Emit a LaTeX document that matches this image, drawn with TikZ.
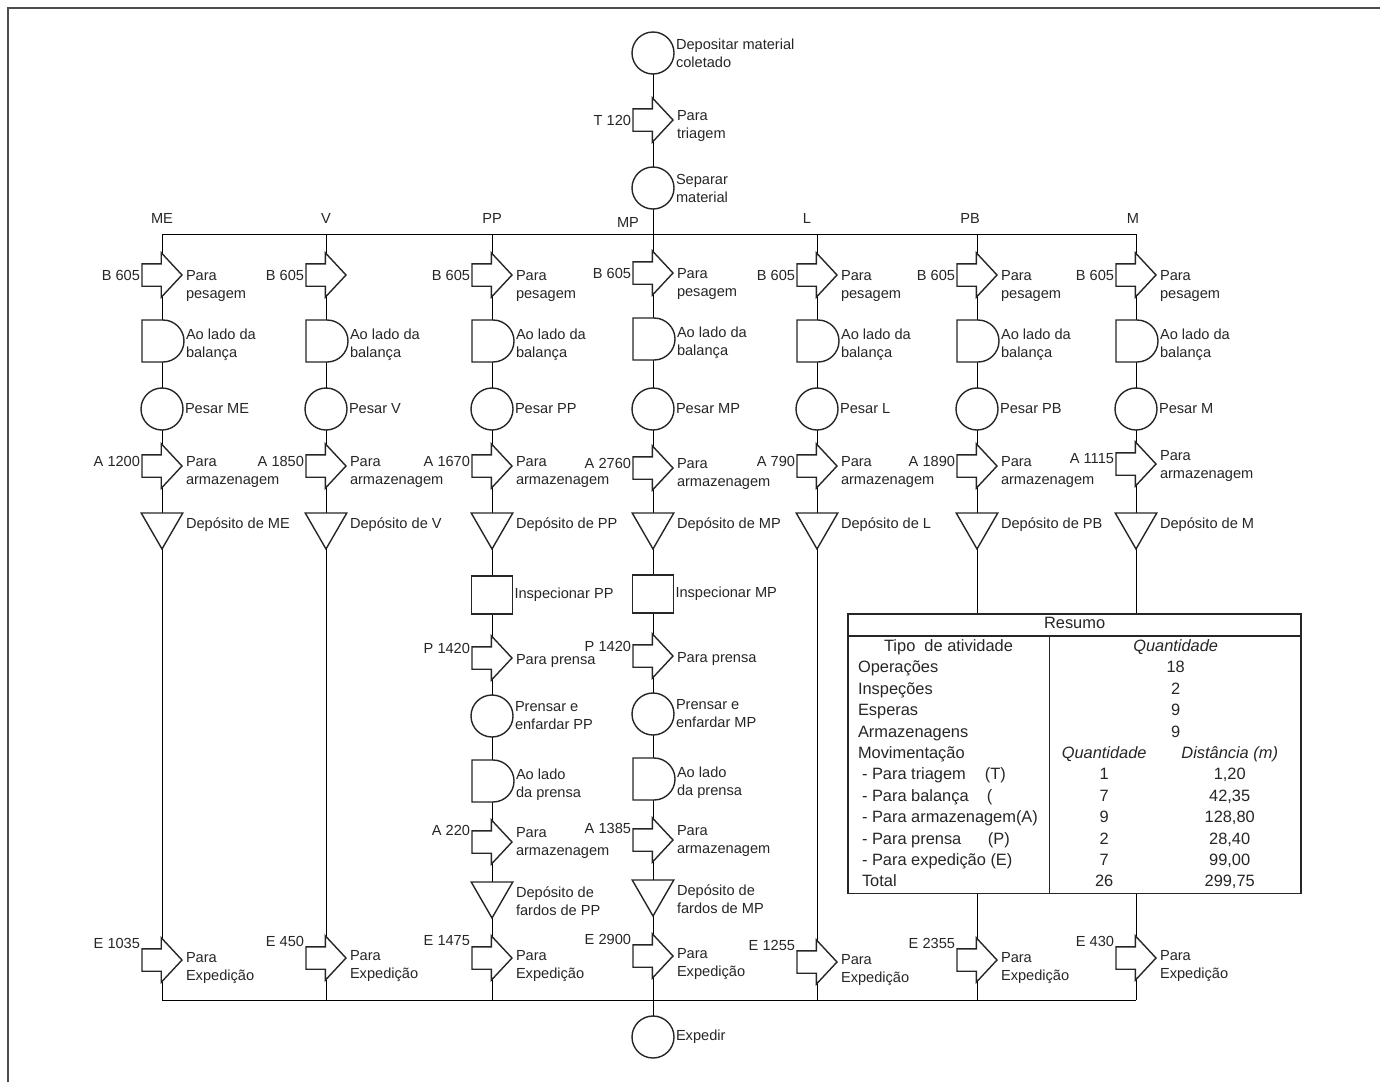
\documentclass[tikz,border=0pt]{standalone}
\usepackage{fontspec}
\setmainfont{Liberation Sans}
\usepackage{array}
\usepackage{tikz}
\usetikzlibrary{shapes.arrows,shapes.geometric,shapes.misc}
\pgfdeclarelayer{bg}
\pgfsetlayers{bg,main}
% operation, transport, delay, inspection, storage
\newcommand{\oper}[4]{\node[opcircle] (#1) at (#2,#3) {};
  \node[txt] (#1t) at (#1.east) {#4};}
\newcommand{\mover}[7][6]{\node[movearrow] (#2) at (#3+20,#4) {};
  \node[lbl] (#2l) at (#3-20,#4+#5) {#6};
  \node[txt] (#2t) at (#3+22,#4+#1) {#7};}
\newcommand{\wait}[4]{\node[waitd] (#1) at (#2-20,#3) {};
  \node[txt] (#1t) at (#2+22,#3+4) {#4};}
\newcommand{\insp}[4]{\node[inspbox] (#1) at (#2,#3) {};
  \node[txt] (#1t) at (#1.east) {#4};}
\newcommand{\store}[5][12]{\node[storetri] (#2) at (#3,#4+12) {};
  \node[txt] (#2t) at (#3+22,#4+#1) {#5};}

\begin{document}
\begin{tikzpicture}[x=0.5pt,y=-0.5pt,line width=0.7pt,color=black!85,
    every node/.style={inner sep=1pt,outer sep=0,font=\fontsize{7.3}{9}\selectfont},
    txt/.style={anchor=west,align=left},
    lbl/.style={anchor=east},
    opcircle/.style={circle,draw,fill=white,inner sep=0,minimum size=21pt},
    movearrow/.style={single arrow,draw,fill=white,single arrow head extend=5.5pt,
      single arrow tip angle=94,minimum height=20pt,inner xsep=0pt,inner ysep=5.25pt,anchor=tip},
    waitd/.style={rounded rectangle,rounded rectangle west arc=none,draw,fill=white,
      minimum width=20.5pt,minimum height=21pt,inner sep=0,anchor=west},
    inspbox/.style={rectangle,draw,fill=white,minimum width=20.5pt,minimum height=19pt,inner sep=0},
    storetri/.style={regular polygon,regular polygon sides=3,shape border rotate=180,
      draw,fill=white,minimum size=24pt,inner sep=0}]
  \useasboundingbox (0,0) rectangle (1380,1082);
  \draw[line width=1pt,black!70] (8,1082) -- (8,8) -- (1380,8);

  \oper{dep}{653}{53}{Depositar material\\coletado}
  \mover{tri}{653}{120}{0}{T 120}{Para\\triagem}
  \oper{sep}{653}{188}{Separar\\material}

  \coordinate (topME) at (162,234); \coordinate (botME) at (162,1000);
  \coordinate (topV) at (326,234);  \coordinate (botV) at (326,1000);
  \coordinate (topPP) at (492,234); \coordinate (botPP) at (492,1000);
  \coordinate (topL) at (817,234);  \coordinate (botL) at (817,1000);
  \coordinate (topPB) at (977,234); \coordinate (botPB) at (977,1000);
  \coordinate (topM) at (1136,234); \coordinate (botM) at (1136,1000);

  \node (hME) at (162,218) {ME};
  \node (hV) at (326,218) {V};
  \node (hPP) at (492,218) {PP};
  \node (hMP) at (628,222) {MP};
  \node (hL) at (807,218) {L};
  \node (hPB) at (970,218) {PB};
  \node (hM) at (1133,218) {M};

  % ME
  \mover[11]{bME}{162}{275}{0}{B 605}{Para\\pesagem}
  \wait{wME}{162}{341}{Ao lado da\\balança}
  \oper{oME}{162}{409}{Pesar ME}
  \mover{aME}{162}{466}{-5}{A 1200}{Para\\armazenagem}
  \store{sME}{162}{513}{Depósito de ME}
  \mover[8]{eME}{162}{960}{-17}{E 1035}{Para\\Expedição}
  % V
  \mover{bV}{326}{275}{0}{B 605}{}
  \wait{wV}{326}{341}{Ao lado da\\balança}
  \oper{oV}{326}{409}{Pesar V}
  \mover{aV}{326}{466}{-5}{A 1850}{Para\\armazenagem}
  \store{sV}{326}{513}{Depósito de V}
  \mover[8]{eV}{326}{958}{-17}{E 450}{Para\\Expedição}
  % PP
  \mover[11]{bPP}{492}{275}{0}{B 605}{Para\\pesagem}
  \wait{wPP}{492}{341}{Ao lado da\\balança}
  \oper{oPP}{492}{409}{Pesar PP}
  \mover{aPP}{492}{466}{-5}{A 1670}{Para\\armazenagem}
  \store{sPP}{492}{513}{Depósito de PP}
  \insp{iPP}{492}{595}{Inspecionar PP}
  \mover[3]{pPP}{492}{658}{-10}{P 1420}{Para prensa}
  \oper{prPP}{492}{716}{Prensar e\\enfardar PP}
  \wait{w2PP}{492}{781}{Ao lado\\da prensa}
  \mover[1]{a2PP}{492}{842}{-12}{A 220}{Para\\armazenagem}
  \store[19]{s2PP}{492}{882}{Depósito de\\fardos de PP}
  \mover[8]{ePP}{492}{958}{-17}{E 1475}{Para\\Expedição}
  % MP
  \mover[11]{bMP}{653}{273}{0}{B 605}{Para\\pesagem}
  \wait{wMP}{653}{339}{Ao lado da\\balança}
  \oper{oMP}{653}{409}{Pesar MP}
  \mover{aMP}{653}{468}{-5}{A 2760}{Para\\armazenagem}
  \store{sMP}{653}{513}{Depósito de MP}
  \insp{iMP}{653}{594}{Inspecionar MP}
  \mover[3]{pMP}{653}{656}{-10}{P 1420}{Para prensa}
  \oper{prMP}{653}{714}{Prensar e\\enfardar MP}
  \wait{w2MP}{653}{779}{Ao lado\\da prensa}
  \mover[1]{a2MP}{653}{840}{-12}{A 1385}{Para\\armazenagem}
  \store[19]{s2MP}{653}{880}{Depósito de\\fardos de MP}
  \mover[8]{eMP}{653}{956}{-17}{E 2900}{Para\\Expedição}
  % L
  \mover[11]{bL}{817}{275}{0}{B 605}{Para\\pesagem}
  \wait{wL}{817}{341}{Ao lado da\\balança}
  \oper{oL}{817}{409}{Pesar L}
  \mover{aL}{817}{466}{-5}{A 790}{Para\\armazenagem}
  \store{sL}{817}{513}{Depósito de L}
  \mover[8]{eL}{817}{962}{-17}{E 1255}{Para\\Expedição}
  % PB
  \mover[11]{bPB}{977}{275}{0}{B 605}{Para\\pesagem}
  \wait{wPB}{977}{341}{Ao lado da\\balança}
  \oper{oPB}{977}{409}{Pesar PB}
  \mover{aPB}{977}{466}{-5}{A 1890}{Para\\armazenagem}
  \store{sPB}{977}{513}{Depósito de PB}
  \mover[8]{ePB}{977}{960}{-17}{E 2355}{Para\\Expedição}
  % M
  \mover[11]{bM}{1136}{275}{0}{B 605}{Para\\pesagem}
  \wait{wM}{1136}{341}{Ao lado da\\balança}
  \oper{oM}{1136}{409}{Pesar M}
  \mover[2]{aM}{1136}{464}{-5}{A 1115}{Para\\armazenagem}
  \store{sM}{1136}{513}{Depósito de M}
  \mover[8]{eM}{1136}{958}{-17}{E 430}{Para\\Expedição}

  \oper{exp}{653}{1037}{Expedir}

  \node[draw,fill=white,inner sep=0,anchor=north west,line width=0.8pt,
    font=\fontsize{8.2}{10.7}\selectfont] (resumo) at (848,614) {%
    \setlength{\arrayrulewidth}{0.6pt}%
    \begin{tabular}{@{\hspace{5pt}}w{l}{95.5pt}@{}|@{}w{c}{54pt}@{}w{c}{71.5pt}@{}}
      \multicolumn{3}{@{}c@{}}{Resumo}\\ \hline
      \multicolumn{1}{@{}w{c}{100.5pt}@{}|}{Tipo\ \ de atividade} & \multicolumn{2}{@{}c@{}}{\textit{Quantidade}}\\
      Operações & \multicolumn{2}{@{}c@{}}{18}\\
      Inspeções & \multicolumn{2}{@{}c@{}}{2}\\
      Esperas & \multicolumn{2}{@{}c@{}}{9}\\
      Armazenagens & \multicolumn{2}{@{}c@{}}{9}\\
      Movimentação & \textit{Quantidade} & \textit{Distância (m)}\\
      \hspace{2pt}\makebox[61.5pt][l]{- Para triagem}(T) & 1 & 1,20\\
      \hspace{2pt}\makebox[62.5pt][l]{- Para balança}( & 7 & 42,35\\
      \hspace{2pt}- Para armazenagem(A) & 9 & 128,80\\
      \hspace{2pt}\makebox[63pt][l]{- Para prensa}(P) & 2 & 28,40\\
      \hspace{2pt}- Para expedição (E) & 7 & 99,00\\
      \hspace{2pt}Total & 26 & 299,75
    \end{tabular}};

  \begin{pgfonlayer}{bg}
    \draw (topME) -- (topM);
    \draw (botME) -- (botM);
    \draw (topME) -- (botME);
    \draw (topV) -- (botV);
    \draw (topPP) -- (botPP);
    \draw (topL) -- (botL);
    \draw (topPB) -- (botPB);
    \draw (topM) -- (botM);
    \draw (dep) -- (sep);
    \draw (sep) -- (exp);
  \end{pgfonlayer}
\end{tikzpicture}
\end{document}
